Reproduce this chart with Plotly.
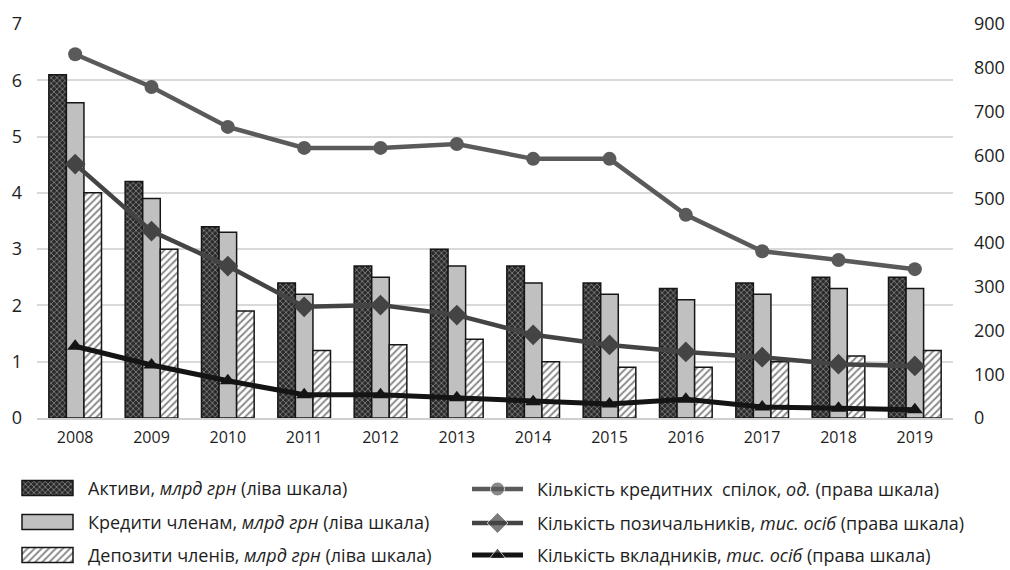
import plotly.graph_objects as go

# --- data -------------------------------------------------------------
years = ["2008", "2009", "2010", "2011", "2012", "2013",
         "2014", "2015", "2016", "2017", "2018", "2019"]

assets = [6.1, 4.2, 3.4, 2.4, 2.7, 3.0, 2.7, 2.4, 2.3, 2.4, 2.5, 2.5]        # млрд грн
member_loans = [5.6, 3.9, 3.3, 2.2, 2.5, 2.7, 2.4, 2.2, 2.1, 2.2, 2.3, 2.3]  # млрд грн
member_deposits = [4.0, 3.0, 1.9, 1.2, 1.3, 1.4, 1.0, 0.9, 0.9, 1.0, 1.1, 1.2]

unions_count = [831, 756, 665, 617, 617, 626, 592, 592, 464, 381, 361, 340]   # од.
borrowers = [580, 427, 347, 254, 258, 235, 190, 167, 151, 139, 123, 119]      # тис. осіб
depositors = [164, 121, 85, 53, 53, 46, 37, 32, 43, 25, 22, 19]               # тис. осіб

left_ticks = [0, 1, 2, 3, 4, 5, 6, 7]
right_ticks = [0, 100, 200, 300, 400, 500, 600, 700, 800, 900]

labels = [
    "Активи, <i>млрд грн</i> (ліва шкала)",
    "Кредити членам, <i>млрд грн</i> (ліва шкала)",
    "Депозити членів, <i>млрд грн</i> (ліва шкала)",
    "Кількість кредитних  спілок, <i>од.</i> (права шкала)",
    "Кількість позичальників, <i>тис. осіб</i> (права шкала)",
    "Кількість вкладників, <i>тис. осіб</i> (права шкала)",
]

# --- styles -----------------------------------------------------------
W, H = 1010, 570
FONT = "Open Sans"
TXT = "#1e1e1e"
OUTLINE = dict(color="#161616", width=1.5)

bar_styles = [
    dict(color="#2a2a2a", line=OUTLINE,
         pattern=dict(shape="x", fgcolor="#e6e6e6", bgcolor="#2a2a2a",
                      size=4, solidity=0.35, fillmode="overlay")),
    dict(color="#c0c0c0", line=OUTLINE),
    dict(color="white", line=OUTLINE,
         pattern=dict(shape="/", fgcolor="#161616", bgcolor="white",
                      size=5, solidity=0.4, fillmode="overlay")),
]
line_styles = [
    dict(color="#5a5a5a", width=4.5, symbol="circle", size=14),
    dict(color="#444444", width=4.5, symbol="diamond", size=16),
    dict(color="#141414", width=5, symbol="triangle-up", size=14),
]

# plot-area geometry in pixels
PL, PR, PT, PB = 37, 953, 24, 418

fig = go.Figure()

for vals, st in zip([assets, member_loans, member_deposits], bar_styles):
    fig.add_trace(go.Bar(x=years, y=vals, marker=st, xaxis="x", yaxis="y",
                         showlegend=False, hoverinfo="skip"))

for vals, st in zip([unions_count, borrowers, depositors], line_styles):
    fig.add_trace(go.Scatter(
        x=years, y=vals, mode="lines+markers", xaxis="x", yaxis="y2",
        line=dict(color=st["color"], width=st["width"]),
        marker=dict(color=st["color"], symbol=st["symbol"], size=st["size"]),
        showlegend=False, hoverinfo="skip"))

# --- legend drawn on its own pixel-scaled axes ------------------------
LEG_H = 100  # bottom strip height in pixels
left_rows = [488, 522, 555]
right_rows = [489, 523, 555]

for row, st in zip(left_rows, bar_styles):
    yc = H - row
    fig.add_trace(go.Bar(x=[47.5], y=[15], base=[yc - 7.5], width=[51],
                         offset=-25.5, marker=st, xaxis="x3", yaxis="y3",
                         showlegend=False, hoverinfo="skip"))

for row, st in zip(right_rows, line_styles):
    yc = H - row
    fig.add_trace(go.Scatter(
        x=[472, 497.5, 523], y=[yc, yc, yc], mode="lines+markers",
        xaxis="x3", yaxis="y3",
        line=dict(color=st["color"], width=st["width"]),
        marker=dict(color=st["color"], symbol=st["symbol"],
                    size=[0, st["size"], 0]),
        showlegend=False, hoverinfo="skip"))

annotations = []
for i, lab in enumerate(labels):
    if i < 3:
        x, row = 86, left_rows[i]
    else:
        x, row = 535, right_rows[i - 3]
    annotations.append(dict(
        text=lab, xref="paper", yref="paper", x=x / W, y=(H - row) / H,
        xanchor="left", yanchor="middle", showarrow=False,
        font=dict(family=FONT, size=18, color=TXT)))

hidden = dict(visible=False, fixedrange=True, automargin=False)

fig.update_layout(
    width=W, height=H,
    margin=dict(l=0, r=0, t=0, b=0, autoexpand=False),
    paper_bgcolor="white", plot_bgcolor="white",
    barmode="group", bargap=0.31, bargroupgap=0,
    font=dict(family=FONT, color=TXT),
    xaxis=dict(domain=[PL / W, PR / W], anchor="y", type="category",
               range=[-0.5, len(years) - 0.5], automargin=False,
               showgrid=False, showline=True, linecolor="#cfcfcf", linewidth=2,
               ticks="", tickfont=dict(size=16, color=TXT),
               ticklabelstandoff=4, fixedrange=True),
    yaxis=dict(domain=[(H - PB) / H, (H - PT) / H], anchor="x",
               automargin=False,
               range=[0, 7], tickvals=left_ticks,
               showgrid=True, gridcolor="#d9d9d9", gridwidth=1.5,
               zeroline=False, showline=False, ticks="",
               tickfont=dict(size=18, color=TXT),
               ticklabelstandoff=14, fixedrange=True),
    yaxis2=dict(overlaying="y", side="right", anchor="x",
                automargin=False,
                range=[0, 900], tickvals=right_ticks,
                showgrid=False, zeroline=False, showline=False, ticks="",
                tickfont=dict(size=18, color=TXT),
                ticklabelstandoff=20, fixedrange=True),
    xaxis3=dict(domain=[0, 1], anchor="y3", range=[0, W], **hidden),
    yaxis3=dict(domain=[0, LEG_H / H], anchor="x3", range=[0, LEG_H], **hidden),
    annotations=annotations,
)

fig.write_html("out.html")
